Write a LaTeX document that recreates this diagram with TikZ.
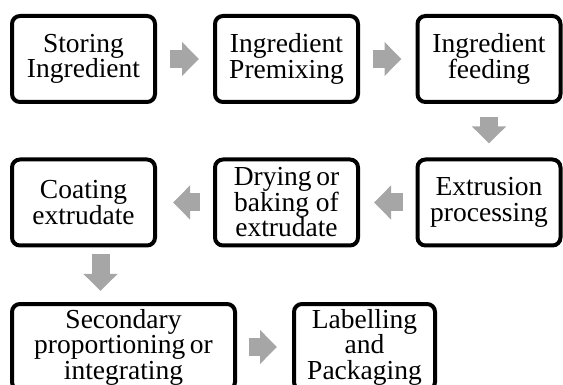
\documentclass[tikz,border=0pt]{standalone}
\usepackage{fontspec}
\setmainfont{Liberation Serif}
\usetikzlibrary{arrows.meta}
\definecolor{flowgray}{HTML}{A6A6A6}

\begin{document}
\begin{tikzpicture}[x=1pt, y=-1pt,
  stage/.style={draw, line width=4pt, rounded corners=8pt, minimum width=143pt,
    minimum height=86pt, align=center, inner sep=0pt,
    font=\fontsize{27.5pt}{25.5pt}\selectfont},
  flow/.style={flowgray, line width=18pt, -{Triangle[length=17pt, width=33pt]},
    shorten <=13pt, shorten >=14pt}
]
\useasboundingbox (0,0) rectangle (563,385);
\clip (0,0) rectangle (563,385);

% Top row
\node[stage] (store) at (83.5, 59) {Storing\\Ingredient};
\node[stage] (premix) at (286.5, 59) {Ingredient\\Premixing};
\node[stage] (feed) at (489, 59) {Ingredient\\feeding};
\draw[flow] (store) -- (premix);
\draw[flow] (premix) -- (feed);

% Middle row (right to left)
\node[stage] (extr) at (489, 202.5) {Extrusion\\processing};
\node[stage] (dry) at (286.5, 202.5) {Drying\,or\\baking of\\extrudate};
\node[stage] (coat) at (83.5, 202.5) {Coating\\extrudate};
\draw[flow] (feed) -- (extr);
\draw[flow] (extr) -- (dry);
\draw[flow, shorten >=16pt] (dry) -- (coat);

% Bottom row
\node[stage, minimum width=223pt] (second) at (123.5, 347)
  {Secondary\\proportioning\,or\\integrating};
\node[stage, minimum width=141pt] (label) at (364.5, 347)
  {Labelling\\and\\Packaging};
\draw[flow, shorten <=7pt, shorten >=11pt]
  ([xshift=17pt]coat.south) -- ([xshift=17pt]coat.south |- second.north);
\draw[flow, shorten <=12pt, shorten >=15pt] (second) -- (label);

\end{tikzpicture}
\end{document}
